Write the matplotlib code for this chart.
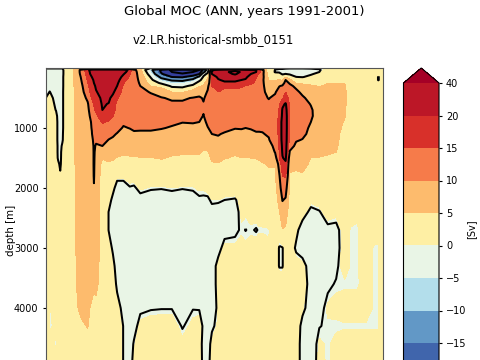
import numpy as np
import matplotlib
matplotlib.use("Agg")
import matplotlib.pyplot as plt
from matplotlib.colors import ListedColormap, BoundaryNorm

title = "Global MOC (ANN, years 1991-2001)"
subtitle = "v2.LR.historical-smbb_0151"
depth_ticks = [1000, 2000, 3000, 4000]
levels = [-20, -15, -10, -5, 0, 5, 10, 15, 20, 40]
colorbar_ticks = [-15, -10, -5, 0, 5, 10, 15, 20, 40]
line_levels = [-30, -20, -10, -0.5, 10, 20, 25.5]
band_colors = ["#4065ac", "#6298c6", "#b3deeb", "#e9f5e6", "#feefa4", "#fdbb6d", "#f67b4a", "#d8302a", "#bc1727"]
under_color, over_color = "#343e9b", "#a50026"

depth = [0, 33, 67, 100, 150, 200, 250, 300, 400, 500, 600, 700, 800, 900, 1000, 1100, 1200,
         1300, 1400, 1500, 1600, 1800, 2000, 2200, 2400, 2700, 3000, 3300, 3600, 4000, 4300, 4600, 5000]
lat = [-80, -78, -75, -74, -73, -72, -71, -68, -65, -63, -60, -58, -57, -56, -53, -50, -48, -46, -43, -40,
       -38, -35, -30, -25, -20, -15, -10, -7, -5, -3, -1, 2, 5, 10, 13, 15, 17.5, 20, 21.5, 23, 26, 29, 31, 32.5, 34, 36, 39,
       42, 46, 50, 54, 58, 62, 65, 68, 72, 76, 78, 80]
# One streamfunction profile [Sv] per latitude, surface to bottom.
moc_by_lat = [
 [0,-2,-2,-2,-2,-2,-2,-2, -1.5,-0.6,1,2,2,2,2,2,2,2,2,2,2, 2,2,2,2,2,2,2,2,2,2,2,2],
 [0,-2,-2,-2,-2,-2,-2,-1.5, -0.4,1,2,2,2,2,2,2,2,2,2,2,2, 2,2,2,2,1,0.3,-0.3,-0.3,-0.3,-0.2,0.5,1],
 [0,-2,-2,-2,-2,-2,-2,-2, -2,-2,-1.5,-0.7,1,2,2,2,2,2,2,2,2, 2,2,2,2,2,2,2,2,2,0.3,-0.2,1],
 [0,-2,-2,-2,-2,-2,-2,-2, -2,-2,-2,-2,-2,-2,-2,-2,-2,-1.5,-1.5,-1.2,0.5, 2,2,2,2,2,2,2,2,2,2,2,2],
 [0,-2,-2,-2,-2,-2,-2,-2, -2,-2,-2,-2,-2,-2,-2,-2,-2,-2,-2,-2,-1.5, 0.3,2,2,2,2,2,2,2,2,2,2,2],
 [0,-2,-2,-2,-2,-2,-2,-2, -2,-2,-2,-2,-2,-2,-2,-1.5,-1.2,0.3,1.5,2,2, 2,2,2,2,2,2,2,2,2,2,2,2],
 [0,1,1,1,1.5,1.5,1.5,1.5, 2,2,2,2,2,2,2,2,2,2,2,2,2, 2,2,2,2,2,2,2,2,2,2,2,2],
 [0,3,3,3,3,3,3,3, 3,3,3,3,3,3,3,3,3,3,3,3,3, 3,3,3,3,3,3,3,3,3,3,2.5,2.5],
 [0,7,7,7,7,7,7,7, 6.5,6,6,6,6,6,6,6,6,6,6,6,6, 5.5,5.5,5.5,5.5,5.5,5.5,5.3,5.2,4.7,4,3,2.5],
 [0,12,12,11.5,10.5,10,9.5,9, 8.5,8,7.5,7.5,7,7,7,7,7,7,7,7,7, 7,7,7,7,7,7,7,7,6,4.3,3,2.5],
 [0,18,17,17,16,15.5,14.8,14, 12.5,10.8,9.5,9,8.5,8,8,8,8,7.5,7.5,7.5,7.5, 7.5,7.5,7.5,7.5,7.5,7.5,7.5,7.5,6,5.2,4,3],
 [0,24,23,22,20,19,18.5,18, 17,15.5,13.5,12.5,11.5,10.5,10.2,9.8,9,8.5,8,8,8, 8,8,8,8,8,8,7.5,6.5,4.2,3.5,3,2.5],
 [0,25,24,23.5,22.5,20.5,20,19, 18,16.5,15.3,14.5,14,13.5,13,12,11,10.5,10.5,10.5,10.5, 10.3,9.8,8,7,7,7,6.5,5.5,4,3.5,3,2.5],
 [0,25,25,24,23,22,21,20.8, 19.6,18,16.5,15.5,14.3,13.5,12.5,11.5,10.5,9.7,9,8.5,8, 7.5,7,7,7,7,7,6.5,6,4,3,3,2.5],
 [0,25,25,25,25,24,24,23, 22,21,20.5,20,17,15.3,14,12.5,11,10,7,5.2,4, 3.5,3.5,3.5,3.5,3.5,3.5,3,3,3,2.5,2.5,2],
 [0,25,25,25,25,25,25,24, 23,21,19.8,18,16.5,14.7,13,11,9.9,8,7,5.5,4.7, 4,3.5,1,-0.6,-0.6,1,1.5,1.5,1.5,1.5,1.5,1.5],
 [0,25,25,25,25,25,25,24, 21,18.5,17.5,16.5,15.3,13.5,12,10.5,9.5,8,6.5,5.3,4.5, 2.5,0.5,-1.5,-2,-2,-1,0.5,1.5,1.5,1.5,1.5,1.5],
 [0,25,25,25,24,22.5,21,20, 17.5,15.5,14,13.5,13,12,11,9.8,9,8,6,4.8,3.5, 0.5,-2,-2,-2,-2,-2,-2,-1.2,0.8,1.5,1.5,1.5],
 [0,24,23,20.5,18,16,15.2,14.5, 13.5,12.5,12,11.5,11,10.6,9.7,8.5,7.5,7,5.5,4.5,3.5, 0.5,-2,-2,-2,-2,-2,-2,-2,-1.5,-0.6,-0.6,-0.6],
 [0,18,16,15.3,14.5,14,13.5,13.5, 13,12.5,12,11.5,11,10.5,10.1,9,8,7,5.8,4.6,3.5, 1,-0.7,-2,-2,-2,-2,-2,-2,-2,-2,-2,-2],
 [0,12,12,12,12,12,12,12, 12,12,12,12,12,11,10.5,9.5,8,7,5.8,4.7,3.5, 1,-0.9,-2,-2,-2,-2,-2,-2,-2,-1.5,-0.2,1],
 [0,6,7.5,8,8.5,9,9.5,10, 10.8,11,11.5,11.5,11.5,11,10.4,9.5,8.5,7,5.7,4.9,4, 1.5,0.3,-1.5,-2,-2,-2,-2,-2,-1,0.5,1,1.5],
 [0,-8,-6,-4,-1,1,3,5, 9.8,10.8,11,11.5,11.5,11,10.4,9.5,8.5,7,5.8,4.9,4, 1.5,-0.2,-2,-2,-2,-2,-2,-1.5,-0.7,1,1.5,1.5],
 [0,-22,-21,-19,-12,-7,-1.5,3.5, 8.5,10.2,11,11,11,11,10.2,9,8,7,6,5.2,4.2, 1.5,-0.3,-2.5,-2.5,-2.5,-2.5,-2.5,-2,-0.6,1,1.5,1.5],
 [0,-32,-30,-27,-20,-11,-6,-1.5, 5,9.6,10.5,11,11,10.6,9.7,9,8,7,5.6,4.7,4, 2,0,-2,-2.5,-2.5,-2.5,-2.5,-2.3,-0.6,1,1.5,1.5],
 [0,-36,-33,-29,-21,-12,-6,-2, 4.5,9.5,10.6,11,11,10.1,9.2,8.5,7.5,6.5,5.3,4.6,4, 2,-0.3,-2.5,-2.5,-2.5,-2.5,-2.5,-2.3,-1.6,-0.7,0.5,1.5],
 [0,-34,-30,-27,-15,-8,-3,1, 7,10.2,11,11,10.8,10.2,9.3,8.5,7.5,6.5,5.3,4.6,4, 2,-0.2,-1.5,-2.5,-2.5,-2.5,-2.5,-2.3,-0.6,0.5,1,1.5],
 [0,-30,-25,-20.5,-8,-2,2,4.5, 8.5,10.5,11,10.8,10.5,10,9,8,7.5,6.5,5.3,4.6,4, 2,0.3,-0.9,-2.5,-2.5,-2.5,-2.5,-2,-0.7,1,1,1.5],
 [0,-18,-13,-3,0.5,2,4,5.5, 8,9.7,10.2,10.2,9.9,9,8.5,8,7,5.5,4.7,4.5,4, 2,0.3,-1,-2,-2,-2,-2,-2,-1.5,-1,-1.5,-1.5],
 [0,-6,-2,1,3,6,7,9, 10.5,11,11,11,11,10.8,9.8,8.5,7,5.6,4.8,4.4,4, 2,0.6,-1,-2,-2,-2,-2,-2,-2,-2,-2,-1.5],
 [0,19,21,20,17,15.5,15.2,15, 14.5,14,13.5,13,12.5,12,11,10,8.5,7,6,5.3,4.8, 3,1,0,-1.5,-2,-2,-2,-2,-2,-1,0.5,1],
 [0,22,23,23,21,19.5,18,16.5, 15,13.5,13,13,12.5,12.5,11,10.2,9.5,8,7,6,4.8, 3,1.5,0,-2,-2.5,-1.5,0.5,0.5,0.1,0.3,1,1],
 [0,24,24.5,24,23,21,19,15.8, 14,13.5,13,13,12.5,12,10.8,9.7,9,8,7,5.1,4.5, 3.5,1.5,-0.5,-1.5,-1.5,0.5,1.5,1.5,1.5,1.5,1.5,1.5],
 [0,24,27,26,23,21,19,16, 14,13.5,13,13,12.5,11.5,10.1,9.3,8.5,7.5,5.3,4.8,4, 3,1.5,-0.8,-1.5,-1,0.3,1.5,1.5,1.5,1.5,1.5,1.5],
 [0,23,25,24,22,20,18,15.5, 13.5,13,12.5,12.5,12,11.5,10.2,9.2,8.3,7.5,6,4.9,4, 3.2,2,0.8,0.3,-0.2,0.5,1.5,1.5,1.5,1.5,1.5,1.5],
 [0,22,24.5,23,21,19.5,17.5,14.7, 13,13,12.5,12,12,11.5,10,9,8,7.5,6.5,4.9,4, 3.5,3,2,0.2,-0.55,0.3,1.5,1.5,1.5,1.5,1.5,1.5],
 [0,21,22,20,18,17,16,14, 13,12.5,12,12,12,11,10.2,9.3,8.5,7.7,6.7,5,4.2, 3.5,3,2.2,0.5,-0.2,0.5,1.5,1.5,1.5,1.5,1.5,1.5],
 [0,20.5,20,17,15.5,14.5,14,13.5, 13,12.5,12,11.5,11.5,11,10.5,9.7,9,8,7,5.1,4.5, 3.5,3,2.5,1,-0.7,1,1.5,1.5,1.5,1.5,1.5,1.5],
 [0,16,16,14,13.5,13,12.5,12, 12,11.5,11.5,11,11,11,10.5,9.7,9,8,7,5.3,4.6, 3.7,3.2,2.5,1,-0.2,1,1.5,1.5,1.5,1.5,1.5,1.5],
 [0,12,12,11.5,11.5,11,11,11, 11,11,11,11,11,11,10.5,9.8,9,8,7,5.5,4.8, 4,3.5,2.5,1,-0.2,1,1.5,1.5,1.5,1.5,1.5,1.5],
 [0,1.5,2,3,4,5,6,7, 8.5,9.8,10.8,11,11,11,11,10.4,9.7,8.5,7.5,6.5,5.2, 4.4,4,3,2,-0.2,0.3,1.5,1.5,1.5,1.5,1.5,1.5],
 [0,-0.6,-0.7,0.5,2,4.5,6,8, 9.5,11,12,13,13.5,13.5,13.5,13,12.5,11,10.2,8,5.2, 4.5,4,3.5,3,2,1.5,1.5,1.5,1.5,1.5,1.5,1.5],
 [0,-1,-0.8,0.3,2.5,5.5,8.5,9.8, 12,13.5,14.8,15.3,15.5,16,16,16,15.5,15.5,15.2,15,12, 9.5,7,6,4.8,1,-0.7,-0.7,1.5,1.5,1.5,1.5,1.5],
 [0,-1,-1.5,-0.8,1,4.5,8,10.5, 13,14.5,19,20.5,21,22,22,22,22,21,20.5,19.7,18, 15,14,10.2,8,4.8,-0.7,-0.7,1.5,1.5,1.5,1.5,1.5],
 [0,-1.5,-2,-0.4,5,10,11.5,13, 15,17,20.5,21.5,22,22,22,22,22,22,22,21,19, 15.5,12,9.5,7,4.5,1.5,1.5,1.5,1.5,1.5,1.5,1.5],
 [0,-2,-2.5,-1,2,6,9.5,11, 12.5,13.5,14.5,15,15,15,15,14.5,14,12,9.5,7,5.5, 4.8,4,3.5,3,2.5,1.5,1.5,1.5,1.5,1.5,1.5,1.5],
 [0,-2,-3,-2.5,-0.4,2,4.5,9, 11,11.5,12,12.5,12.5,12,12,11,10.4,9,8,7,5.6, 4.5,4,3.5,1.5,0.3,-1,1,1.5,1.5,1.5,1.5,1.5],
 [0,-2,-2.8,-2.5,-0.7,2.5,4.5,6, 9,10.7,11.5,12,12,12,11.5,11,9.8,9,8,7,6, 4.6,4,3.5,0.8,-2,-2,0.7,1.5,0.3,-1.5,-2,-2],
 [0,-1.5,-1.5,-0.9,0.5,2,4,5.5, 7,8.5,9.8,10.5,10.6,10,9.3,8.8,8,7.5,5.8,4.9,4.5, 4,3.5,0.5,-1.2,-2,-2,-2,-2,-2,-2,-2,-2],
 [0,-0.8,-0.5,0.5,2,3,4,4.8, 6,7,7.5,8,8,8,8,7.5,7,6.5,5.5,4.9,4, 3,2,1,-0.7,-2,-2,-2,-2,-1.5,-0.6,0.3,0.5],
 [0,1,1.5,2,2.5,3,4.9,5.5, 6.5,7,7.5,7.5,7.5,7,6.5,6.5,6,5.5,5.2,4.8,4, 3.5,3,2.5,1,-1.2,-2,-2,-1,0.3,-0.2,-0.2,-0.2],
 [0,1,1.5,2,2.5,3,4.9,5.2, 6,6.5,6.5,6.5,6.5,6,5.8,5.5,5.5,5.3,5,4.7,4, 3.5,3,2.5,0.5,-1.2,-1.5,-1,-0.3,0.5,-0.3,0.5,0.5],
 [0,1,1.5,2,2.5,3,4.9,5.3, 5.5,5.5,5.5,5.3,5.2,4.8,4.5,4.3,4,3.8,3.5,3.5,3, 3,3,2.5,1.5,0.8,1,1,-0.3,1,-0.2,1,1],
 [0,1,1.5,2,2.5,3,3,3.5, 3.5,3.5,3.5,3.5,3.5,3.5,3,3,3,3,3,3,3, 3,3,2.5,1,-0.2,-0.2,-0.2,-0.3,1,-0.2,1,1],
 [0,1,1.5,2,2.5,3,3,3.5, 3,3,3,3,3,3,3,3,3,3,3,3,3, 3,3,2.5,0.3,-0.2,-0.2,-0.2,-0.3,1,-0.2,1,1],
 [0,1,1.5,2,2,2.5,2.5,2.5, 2.5,2.5,2.5,2.5,2.5,2.5,2.5,2.5,2.5,2.5,2.5,2.5,2.5, 2.5,2.5,2,1.5,1,1,1,1,1,-0.2,1,1],
 [0,1,1.5,2,2,2,2,2, 2,2,2,2,2,2,2,2,2,2,2,2,2, 2,2,2,1.5,1,-0.2,-0.2,-0.2,-0.2,-0.2,1,1],
 [0,1,1,1,-0.7,-0.7,1,2, 2,2,2,2,2,2,2,2,2,2,2,2,2, 2,2,2,1.5,1,-0.2,-0.2,-0.2,-0.2,-0.2,1,1],
 [0,1,1,1,1,1,1,2, 2,2,2,2,2,2,2,2,2,2,2,2,2, 2,2,2,2,1.5,1,1,1,1,1,1,1],
]

W, H = 480, 360
fig = plt.figure(figsize=(W / 100, H / 100), dpi=100)

def place(left, top, right, bottom):
    return [left / W, 1 - bottom / H, (right - left) / W, (bottom - top) / H]

ax = fig.add_axes(place(45.5, 68, 382.5, 368))
cmap = ListedColormap(band_colors)
cmap.set_under(under_color)
cmap.set_over(over_color)
norm = BoundaryNorm(levels, cmap.N)
field = np.array(moc_by_lat).T
cf = ax.contourf(lat, depth, field, levels=levels, cmap=cmap, norm=norm, extend="both")
ax.contour(lat, depth, field, levels=line_levels, colors="k", linewidths=1.45, linestyles="solid")
ax.set_xlim(-80, 80)
ax.set_ylim(5000, 0)
ax.set_yticks(depth_ticks)
ax.set_xticks([])
ax.tick_params(labelsize=7, length=2.5, pad=2.5)
ax.set_ylabel("depth [m]", fontsize=7.4)
ax.yaxis.set_label_coords((16.5 - 45.5) / 337, 0.46)
for s in ax.spines.values():
    s.set_color("#555555")

cax = fig.add_axes(place(403.5, 68, 439, 390.5))
cb = fig.colorbar(cf, cax=cax, spacing="uniform", extendfrac=15 / 292.5, ticks=colorbar_ticks)
cb.set_ticklabels([str(v).replace("-", "\u2212") for v in colorbar_ticks])
cax.tick_params(labelsize=7, length=2.5, pad=2.5)
cb.set_label("[Sv]", fontsize=7)
cax.yaxis.set_label_coords(1.76, 0.5)

fig.text(244 / W, 1 - 11 / H, title, ha="center", va="center", fontsize=9.45)
fig.text(213.5 / W, 1 - 40 / H, subtitle, ha="center", va="center", fontsize=8.35)
fig.savefig("out.png", dpi=100)
